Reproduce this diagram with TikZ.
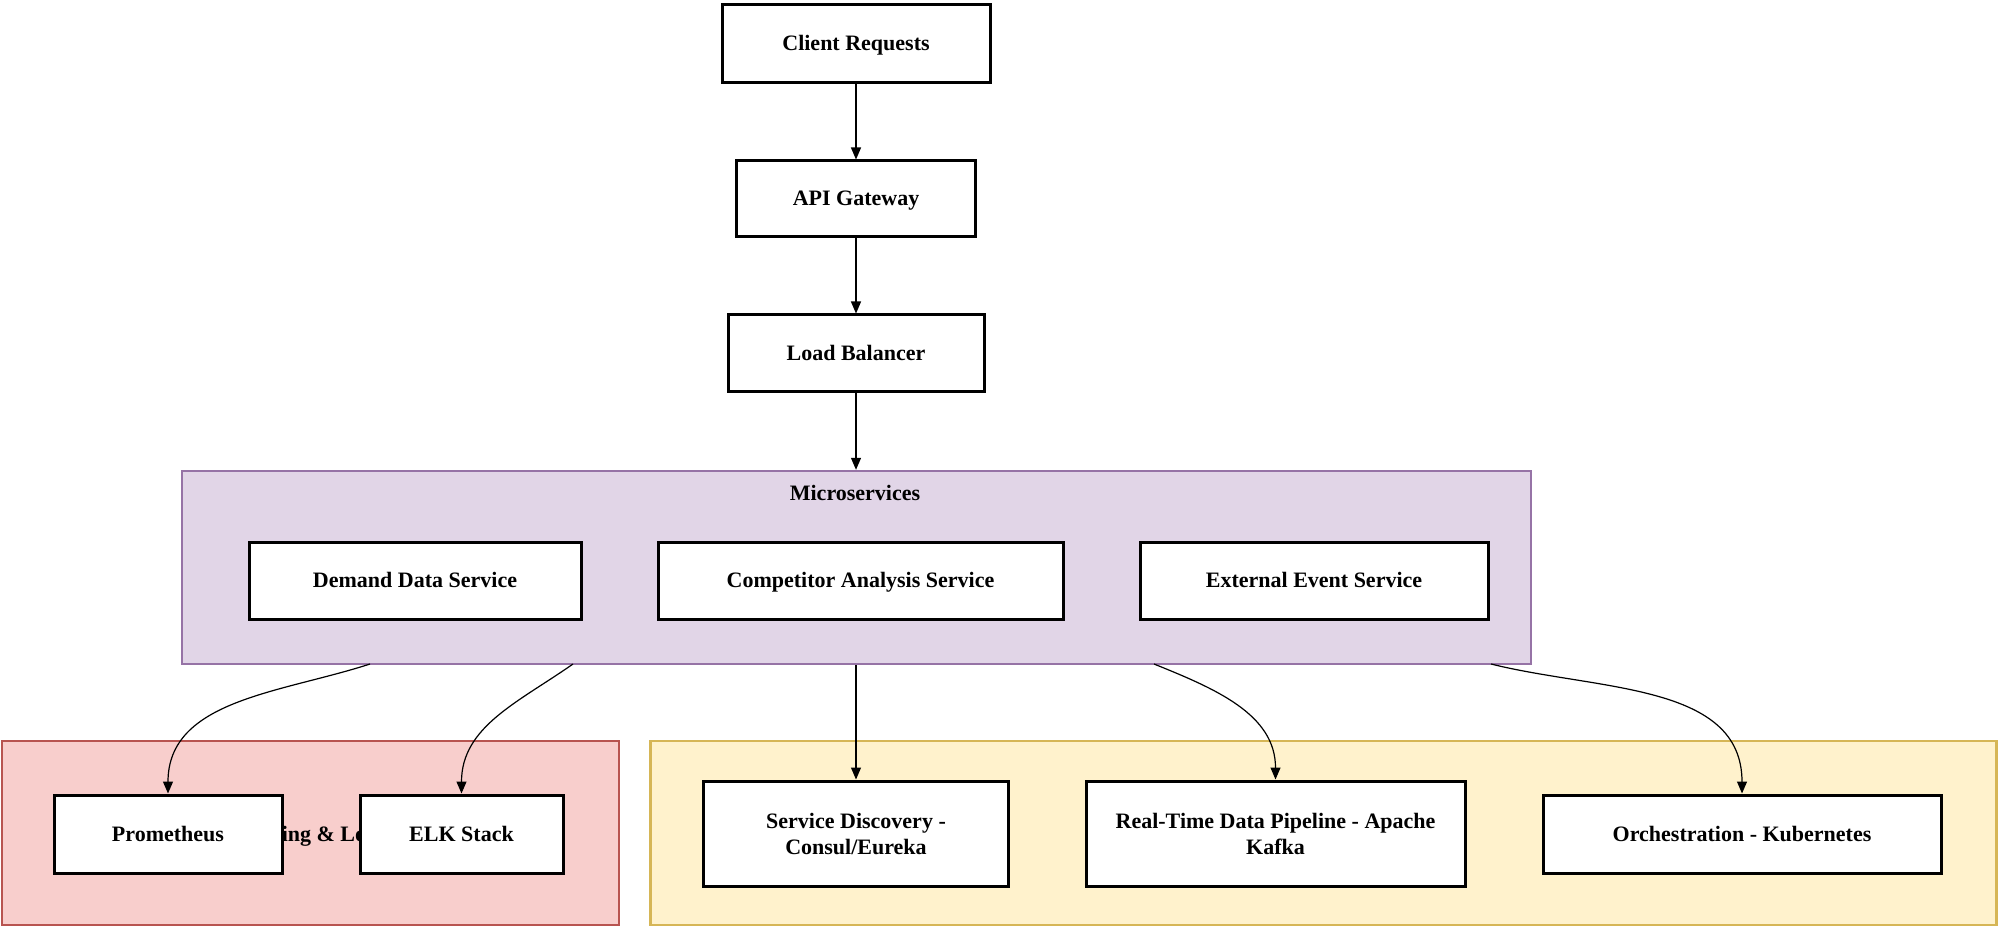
\documentclass[tikz,border=0pt]{standalone}
\usepackage{fontspec}
\setmainfont{Liberation Serif}
\usetikzlibrary{arrows.meta,calc}
\definecolor{msfill}{HTML}{E1D5E7}
\definecolor{msdraw}{HTML}{9673A6}
\definecolor{redfill}{HTML}{F8CECC}
\definecolor{reddraw}{HTML}{B85450}
\definecolor{yelfill}{HTML}{FFF2CC}
\definecolor{yeldraw}{HTML}{D6B656}
\tikzset{
  box/.style={draw=black, fill=white, line width=1.5pt, inner sep=0pt, align=center,
    font=\bfseries\fontsize{11}{13}\selectfont},
  oneline/.style={text height=8.5pt, text depth=1.5pt},
  group/.style={line width=1.2pt, inner sep=0pt},
  lbl/.style={font=\bfseries\fontsize{11}{13}\selectfont, inner sep=0pt, text height=8.5pt, text depth=1.5pt},
  conn/.style={line width=0.6pt, -{Triangle[length=6pt,width=5pt]}},
}
\begin{document}
\begin{tikzpicture}[x=0.5pt,y=-0.5pt]
\useasboundingbox (0,0) rectangle (2001,930);
% containers
\node[group, draw=msdraw, fill=msfill, minimum width=674.5pt, minimum height=96.5pt] (micro) at (856.5,567.5) {};
\node[lbl] (microlbl) at (855,493) {Microservices};
\node[group, draw=reddraw, fill=redfill, minimum width=308.5pt, minimum height=92pt] (mon) at (310.5,833) {};
\node[lbl] (monlbl) at (310.5,834) {Monitoring \& Logging};
\node[group, draw=yeldraw, fill=yelfill, minimum width=673pt, minimum height=92pt] (infra) at (1323.5,833) {};
% top chain
\node[box, oneline, minimum width=134pt, minimum height=39pt] (client) at (856,44) {Client Requests};
\node[box, oneline, minimum width=119.5pt, minimum height=38pt] (api) at (856,199) {API Gateway};
\node[box, oneline, minimum width=128pt, minimum height=38.5pt] (lb) at (856,353.5) {Load Balancer};
% services
\node[box, oneline, minimum width=166pt, minimum height=38.5pt] (demand) at (415,580.5) {Demand Data Service};
\node[box, oneline, minimum width=202.5pt, minimum height=38.5pt] (comp) at (860.5,580.5) {Competitor Analysis Service};
\node[box, oneline, minimum width=174pt, minimum height=38.5pt] (ext) at (1314,580.5) {External Event Service};
% bottom
\node[box, oneline, minimum width=114pt, minimum height=39pt] (prom) at (168,834) {Prometheus};
\node[box, oneline, minimum width=101.5pt, minimum height=39pt] (elk) at (461.5,834) {ELK Stack};
\node[box, minimum width=152.5pt, minimum height=52.5pt] (sd) at (856,833.5) {Service Discovery -\\Consul/Eureka};
\node[box, minimum width=189.5pt, minimum height=52.5pt] (kafka) at (1275.5,833.5) {Real-Time Data Pipeline - Apache\\Kafka};
\node[box, oneline, minimum width=199pt, minimum height=39pt] (k8s) at (1742,834) {Orchestration - Kubernetes};
% start points on microservices bottom
\coordinate (m1) at (370,664);
\coordinate (m2) at (573,664);
\coordinate (m4) at (1154,664);
\coordinate (m5) at (1491,664);
% connectors
\draw[conn] (client) -- (api);
\draw[conn] (api) -- (lb);
\draw[conn] (lb) -- (lb |- micro.north);
\draw[conn] (sd |- micro.south) -- (sd);
\draw[conn] (m1) to[out=198,in=90] (prom.north);
\draw[conn] (m2) to[out=215,in=90] (elk.north);
\draw[conn] (m4) to[out=-22,in=90] (kafka.north);
\draw[conn] (m5) to[out=-14,in=90] (k8s.north);
\end{tikzpicture}
\end{document}
